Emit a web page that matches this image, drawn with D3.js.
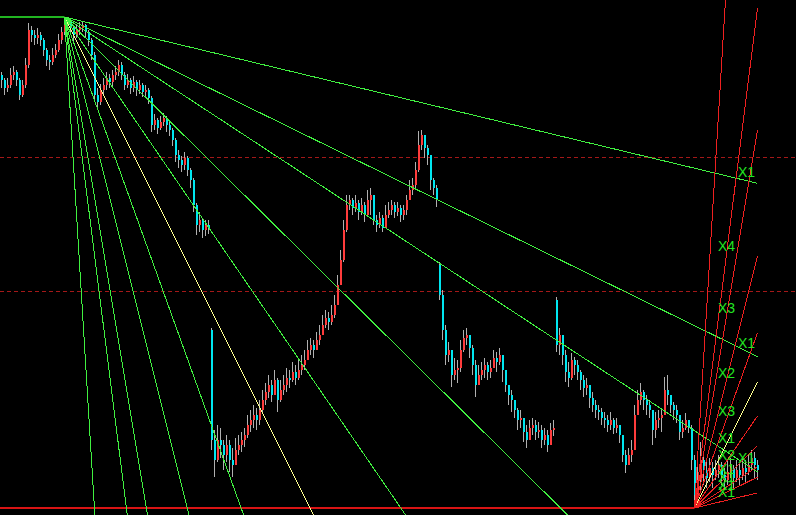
<!DOCTYPE html>
<html><head><meta charset="utf-8">
<script src="https://cdn.jsdelivr.net/npm/d3@7"></script>
<style>html,body{margin:0;padding:0;background:#000;overflow:hidden}</style>
</head><body><svg id="chart" width="796" height="515"></svg>
<script>
// ---- data (price units, one bar per candle) ----
const closes = [
920,912,915,925,928,920,905,915,935,970,
965,962,965,960,950,940,938,945,950,960,
968,975,978,972,965,970,972,975,968,960,
945,905,898,910,915,922,918,925,928,935,
925,915,920,912,918,910,915,908,910,902,
875,880,872,878,882,875,870,860,845,840,
835,842,830,820,795,775,780,770,775,772,
560,540,560,555,545,555,540,535,550,555,
560,565,575,580,585,580,590,600,608,615,
605,620,600,610,615,622,620,628,622,630,
635,640,650,655,650,660,665,675,682,678,
685,695,715,740,770,795,800,792,797,788,
795,785,800,805,780,775,782,772,785,790,
795,788,792,785,790,800,810,815,830,855,
865,852,845,820,812,800,
705,670,645,650,625,630,632,650,662,665,
652,635,615,625,630,635,628,632,642,638,
645,630,615,605,600,590,580,582,568,560,
572,575,568,570,560,565,555,570,572,
655,665,645,628,622,640,635,628,620,612,
615,602,595,590,588,582,580,575,580,572,
575,565,545,535,545,550,585,600,608,600,
595,590,570,580,582,585,610,605,595,590,
585,568,572,580,572,540,505,
520,540,530,522,532,525,530,535,525,520,528,532,522,530,525,532,528,535,542,535,530
];
const highs = [
928,922,922,932,934,930,922,920,942,977,
974,970,972,968,962,952,945,952,956,966,
973,983,982,980,975,976,978,978,976,970,
962,948,912,916,922,928,926,930,934,940,
938,928,926,922,924,920,920,917,915,912,
904,886,882,884,887,884,878,872,862,850,
844,848,844,832,822,797,788,782,780,780,
672,570,575,572,560,565,560,552,562,565,
568,572,585,590,595,592,600,610,617,625,
620,630,622,620,625,632,630,638,635,640,
645,650,660,662,660,668,675,685,690,688,
695,705,725,750,780,805,805,802,805,800,
802,798,810,812,805,785,788,785,795,798,
800,798,798,795,795,805,820,822,838,869,
870,862,855,845,822,815,
738,710,675,658,645,642,640,660,670,672,
665,655,640,635,638,642,638,640,650,648,
652,645,630,615,610,600,592,590,582,575,
580,582,580,578,575,572,570,577,580,
703,672,665,650,638,647,643,640,630,625,
622,615,608,600,595,592,588,585,588,582,
582,575,565,550,552,560,595,610,617,610,
605,600,590,588,590,592,623,625,605,598,
595,580,580,587,580,575,545,
535,558,545,538,542,538,540,545,538,532,540,542,535,540,537,542,540,545,550,548,540
];
const lows = [
912,905,908,912,920,914,900,903,912,932,
958,955,956,954,944,934,930,935,942,948,
956,965,970,966,958,962,965,968,962,954,
940,900,892,895,906,910,912,914,920,924,
920,910,912,906,908,904,906,903,904,896,
868,870,866,870,874,868,864,854,838,832,
828,830,824,812,788,765,768,762,764,766,
550,523,538,542,530,538,528,523,538,545,
548,553,562,568,572,570,575,588,595,602,
598,608,588,598,605,608,612,618,615,620,
625,630,640,645,642,650,655,665,672,670,
675,682,700,715,738,768,790,785,788,780,
785,778,788,785,775,768,772,768,778,782,
785,782,784,778,780,785,800,805,812,828,
850,842,835,810,805,793,
700,660,635,638,613,620,617,628,648,655,
642,625,603,615,620,622,620,622,632,628,
635,618,608,595,588,582,570,572,558,552,
560,565,560,562,552,555,548,560,564,
648,645,635,618,613,620,625,620,610,603,
605,592,588,582,580,575,572,568,570,566,
567,557,538,527,535,538,550,588,595,590,
585,582,555,562,572,568,588,595,587,580,
577,560,562,570,567,530,492,
500,510,515,512,518,512,520,522,515,510,515,522,512,518,515,520,517,525,530,522,520
];
// bars whose open is not the previous close (session gaps)
const gapBars  = [0, 70, 146, 185];
const gapOpens = [925, 670, 735, 700];

// Gann-style fan rates (price per bar) and the highlighted one
const fanRates = [0.72, 1.47, 1.97, 2.97, 4.38, 6, 8.34, 12, 18, 23.8, 49.2];
const fanHighlight = 5;

// horizontal dashed price levels
const levels = [843, 709.5];

// fan labels
const labelTexts  = ["X1","X4","X3","X1","X2","X3","X1","X2","X1","X1","X1","X1","X1"];
const labelBars   = [245.5,238.8,238.8,245.5,238.8,238.8,238.8,238.8,245.5,238.8,238.8,238.8,238.8];
const labelPrices = [823,749,687,652,622,584,557,540,537,526,518,510,503];

// ---- drawing ----
const W = 796, H = 515;
const n = closes.length;
const opens = closes.map((c, i) => {
  const g = gapBars.indexOf(i);
  return g >= 0 ? gapOpens[g] : closes[i - 1];
});

const x = d3.scaleLinear().domain([0, n - 1]).range([1.5, 757.5]);
const y = d3.scaleLinear().domain([485, 1000]).range([H, 0]);

const svg = d3.select("#chart");
svg.append("rect").attr("width", W).attr("height", H).attr("fill", "#000");

// dashed levels
svg.append("g").selectAll("line").data(levels).join("line")
  .attr("x1", 0).attr("x2", W)
  .attr("y1", d => Math.round(y(d)) + 0.5).attr("y2", d => Math.round(y(d)) + 0.5)
  .attr("stroke", "#a41818").attr("stroke-width", 1).attr("stroke-dasharray", "4,3")
  .attr("shape-rendering", "crispEdges");

// candles
const idx = d3.range(n);
const cg = svg.append("g").attr("shape-rendering", "crispEdges");
const colorOf = i => closes[i] > opens[i] ? "#ff3c3c" : (closes[i] < opens[i] ? "#00e6f0" : "#b4b4b4");
cg.selectAll("line.wick").data(idx).join("line").attr("class", "wick")
  .attr("x1", i => x(i)).attr("x2", i => x(i))
  .attr("y1", i => y(Math.max(highs[i], opens[i], closes[i])))
  .attr("y2", i => y(Math.min(lows[i], opens[i], closes[i])))
  .attr("stroke", "#b0b0b0").attr("stroke-width", 1);
cg.selectAll("rect.body").data(idx).join("rect").attr("class", "body")
  .attr("x", i => x(i) - 0.5).attr("width", 2)
  .attr("y", i => y(Math.max(opens[i], closes[i])))
  .attr("height", i => Math.max(1, Math.abs(y(opens[i]) - y(closes[i]))))
  .attr("fill", colorOf);

// fan origins from the data
const gi = d3.maxIndex(highs), gp = highs[gi];
const ri = d3.minIndex(lows), rp = lows[ri];
const last = n - 1;

// horizontal anchor lines
svg.append("line").attr("x1", 0).attr("x2", x(gi)).attr("y1", y(gp)).attr("y2", y(gp))
  .attr("stroke", "#2cf02c").attr("stroke-width", 1.5);
svg.append("line").attr("x1", 0).attr("x2", x(ri)).attr("y1", y(rp)).attr("y2", y(rp))
  .attr("stroke", "#d81414").attr("stroke-width", 2);

// green (down) fan
svg.append("g").attr("shape-rendering", "crispEdges")
  .selectAll("line").data(fanRates).join("line")
  .attr("x1", x(gi)).attr("y1", y(gp))
  .attr("x2", x(last)).attr("y2", r => y(gp - r * (last - gi)))
  .attr("stroke", (r, k) => k === fanHighlight ? "#ffff90" : "#40f040")
  .attr("stroke-width", 1);

// red (up) fan
svg.append("g").attr("shape-rendering", "crispEdges")
  .selectAll("line").data(fanRates).join("line")
  .attr("x1", x(ri)).attr("y1", y(rp))
  .attr("x2", x(last)).attr("y2", r => y(rp + r * (last - ri)))
  .attr("stroke", (r, k) => k === fanHighlight ? "#ffff90" : "#ee2020")
  .attr("stroke-width", 1);

// labels
svg.append("g").selectAll("text").data(labelTexts).join("text")
  .attr("x", (t, k) => x(labelBars[k]))
  .attr("y", (t, k) => y(labelPrices[k]))
  .attr("fill", "#22e622")
  .attr("font-family", "'Liberation Sans', Arial, sans-serif")
  .attr("font-size", 14)
  .text(t => t);
</script>
</body></html>
